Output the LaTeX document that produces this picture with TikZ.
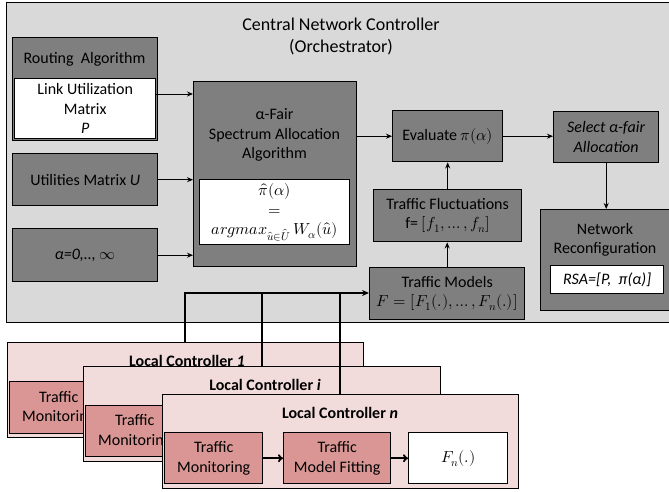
\documentclass[tikz,border=0pt]{standalone}
\usepackage{fontspec}
\usepackage{unicode-math}
\setmainfont{Carlito}
\setmathfont{Latin Modern Math}
\usetikzlibrary{arrows.meta}
\definecolor{cgray}{RGB}{217,217,217}
\definecolor{dgray}{RGB}{127,127,127}
\definecolor{lpink}{RGB}{242,220,219}
\definecolor{mpink}{RGB}{217,150,148}
\newcommand\fsn{\fontsize{16}{19.5}\selectfont}
\newcommand\fst{\fontsize{18}{22}\selectfont}
\begin{document}
\begin{tikzpicture}[x=1pt,y=-1pt, font=\fsn,
  box/.style={draw=black, line width=1.4pt, inner sep=0pt, anchor=north west, align=center},
  dark/.style={box, fill=dgray},
  wbox/.style={box, fill=white},
  lcbox/.style={box, fill=lpink},
  lcin/.style={box, fill=mpink},
  lbl/.style={inner sep=0pt, align=center},
  lclbl/.style={inner sep=0pt, font=\fsn\bfseries},
  conn/.style={line width=1pt, -{Stealth[length=6pt,width=5pt]}},
  lconn/.style={line width=1.8pt},
]
\clip (0,0) rectangle (669,491);
\fill[white] (0,0) rectangle (669,491);
% central controller
\node[box, fill=cgray, minimum width=700pt, minimum height=320pt] (central) at (6,2) {};
\node[lbl, font=\fst] (title) at (341,36) {Central Network Controller\\(Orchestrator)};
% routing
\node[dark, minimum width=145pt, minimum height=103pt] (routing) at (12,37) {};
\node[lbl] (routinglbl) at (84.5,59) {Routing\ \ Algorithm};
\node[wbox, minimum width=141pt, minimum height=60pt] (link) at (14,78) {Link Utilization\\Matrix\\\textit{P}};
\node[dark, minimum width=145pt, minimum height=52pt] (util) at (12,153) {Utilities Matrix \textit{U}};
\node[dark, minimum width=145pt, minimum height=53pt] (alpha) at (12,228) {\textit{α=0,.., }$\infty$};
% fair algorithm
\node[dark, minimum width=163pt, minimum height=185pt] (fair) at (193,81) {};
\node[lbl] (fairlbl) at (274.5,135) {α-Fair\\Spectrum Allocation\\Algorithm};
\node[wbox, minimum width=150pt, minimum height=65pt] (fairw) at (199,179) {$\hat{\pi}(\alpha)$\\$=$\\$argmax_{\hat{u}\in\hat{U}}\,W_{\alpha}(\hat{u})$};
% right side
\node[dark, minimum width=110pt, minimum height=51pt] (eval) at (392,110) {Evaluate $\pi(\alpha)$};
\node[dark, minimum width=105pt, minimum height=51pt] (select) at (553,111) {\textit{Select α-fair}\\\textit{Allocation}};
\node[dark, minimum width=148pt, minimum height=52pt] (fluct) at (373,189) {Traffic Fluctuations\\f= $[f_1,\ldots,f_n]$};
\node[dark, minimum width=155pt, minimum height=52pt] (models) at (369,267) {Traffic Models\\$F=[F_1(.),\ldots,F_n(.)]$};
\node[dark, minimum width=150pt, minimum height=101pt] (netrec) at (540,209) {};
\node[lbl] (netreclbl) at (605,240) {Network\\Reconfiguration};
\node[wbox, minimum width=113pt, minimum height=28pt] (rsa) at (550,265) {\textit{RSA=[P,\ \ π(α)]}};
% central connectors
\draw[conn] (link.east |- 0,94) -- (fair.west |- 0,94);
\draw[conn] (util.east) -- (util.east -| fair.west);
\draw[conn] (alpha.east) -- (alpha.east -| fair.west);
\draw[conn] (eval.west -| fair.east) -- (eval.west);
\draw[conn] (eval.east) -- (eval.east -| select.west);
\draw[conn] (select.south) -- (select.south |- netrec.north);
\draw[conn] (fluct.north) -- (fluct.north |- eval.south);
\draw[conn] (models.north) -- (models.north |- fluct.south);
% local controllers
\node[lcbox, minimum width=356pt, minimum height=95pt] (lc1) at (7,342) {};
\node[lclbl] (lc1lbl) at (187,361) {Local Controller \textit{1}};
\node[lcin, minimum width=98pt, minimum height=52pt] (tm1) at (9,381) {Traffic\\Monitoring};
\node[lcbox, minimum width=357pt, minimum height=95pt] (lci) at (83,366) {};
\node[lclbl] (lcilbl) at (265,385) {Local Controller \textit{i}};
\node[lcin, minimum width=98pt, minimum height=51pt] (tmi) at (85,405) {Traffic\\Monitoring};
\node[lcbox, minimum width=356pt, minimum height=94pt] (lcn) at (162,394) {};
\node[lclbl] (lcnlbl) at (340,413) {Local Controller \textit{n}};
\node[lcin, minimum width=98pt, minimum height=51pt] (tmn) at (164,432) {Traffic\\Monitoring};
\node[lcin, minimum width=107pt, minimum height=51pt] (fit) at (283,432) {Traffic\\Model Fitting};
\node[wbox, minimum width=99pt, minimum height=51pt] (fn) at (408,432) {$F_n(.)$};
\draw[lconn, -{To[length=5pt,width=8pt]}] (tmn) -- (fit);
\draw[lconn, -{To[length=5pt,width=8pt]}] (fit) -- (fn);
% links to central
\coordinate (j1) at (185,293);
\coordinate (j2) at (262,293);
\coordinate (j3) at (340,293);
\draw[lconn] (j2 |- lci.north) -- (j2);
\draw[lconn] (j3 |- lcn.north) -- (j3);
\draw[lconn, -{Stealth[length=7pt,width=6pt]}] (j1 |- lc1.north) -- (j1) -- (j1 -| models.west);
\end{tikzpicture}
\end{document}
